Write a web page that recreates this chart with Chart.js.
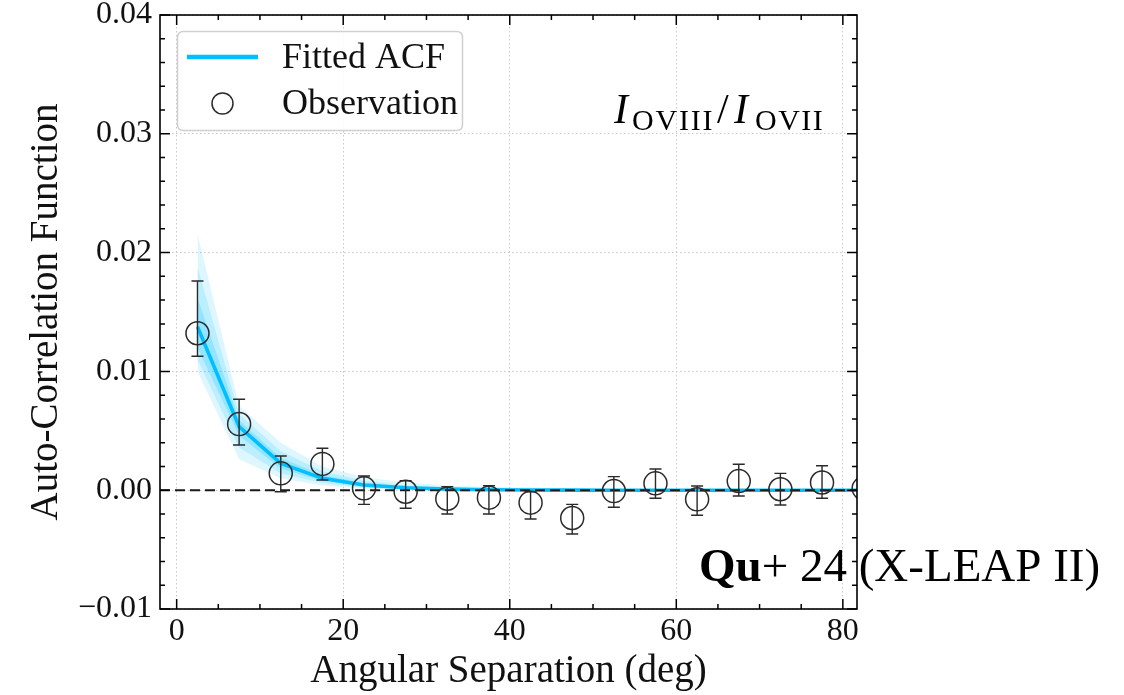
<!DOCTYPE html>
<html><head><meta charset="utf-8">
<script src="https://cdn.jsdelivr.net/npm/chart.js@4.4.1/dist/chart.umd.min.js"></script>
<style>html,body{margin:0;padding:0;background:#fff;overflow:hidden}canvas{display:block}</style>
</head><body>
<canvas id="c" width="1124" height="695"></canvas>
<script>
// ---- data ----
const separation = [2.5,7.5,12.5,17.5,22.5,27.5,32.5,37.5,42.5,47.5,52.5,57.5,62.5,67.5,72.5,77.5,82.5];
const observed   = [0.01321,0.00557,0.00142,0.00221,0.00016,-0.00013,-0.00072,-0.00063,-0.00105,-0.00234,-0.00007,0.00058,-0.00077,0.00077,0.00008,0.00065,0.00016];
const obsUpper   = [0.01761,0.00765,0.00288,0.00353,0.00120,0.00080,0.00030,0.00038,-0.00013,-0.00119,0.00114,0.00178,0.00035,0.00218,0.00142,0.00206,0.00136];
const obsLower   = [0.01127,0.00380,-0.00013,0.00086,-0.00119,-0.00152,-0.00200,-0.00200,-0.00242,-0.00369,-0.00144,-0.00068,-0.00211,-0.00049,-0.00125,-0.00068,-0.00104];
const fitted     = [0.01376,0.00535,0.00226,0.00100,0.00044,0.00020,0.00009,0.00004,0.00002,0.00001,0,0,0,0,0,0,0];
const outerUpper = [0.0216,0.0071,0.0040,0.0020,0.0011,0.00065,0.0004,0.00028,0.0002,0.00014,0.0001,0.00007,0.00005,0.00003,0.00002,0.00001,0.00001];
const outerLower = [0.0100,0.0026,0.0010,0.0004,0.00012,0.00004,0.00001,0,0,0,0,0,0,0,0,0,0];
const midUpper   = [0.0188,0.0064,0.0033,0.0016,0.0008,0.00042,0.00024,0.00014,0.00008,0.00005,0.00003,0.00002,0.00001,0,0,0,0];
const midLower   = [0.0110,0.0036,0.0014,0.0006,0.0002,0.00008,0.00003,0.00001,0,0,0,0,0,0,0,0,0];
const innerUpper = [0.0162,0.0059,0.0027,0.0013,0.0006,0.00028,0.00013,0.00006,0.00003,0.00001,0,0,0,0,0,0,0];
const innerLower = [0.0120,0.0046,0.0018,0.0008,0.0003,0.00012,0.00005,0.00002,0.00001,0,0,0,0,0,0,0,0];
const xTicks = [0,20,40,60,80];
const yTicks = [-0.01,0,0.01,0.02,0.03,0.04];
const xMinorStep = 5, yMinorStep = 0.002;
const xLabel = 'Angular Separation (deg)';
const yLabel = 'Auto-Correlation Function';
const legendLabels = ['Fitted ACF','Observation'];

const SERIF = '"Liberation Serif", "Times New Roman", serif';
const BLUE = '#00bfff';
const pts = arr => separation.map((s,i)=>({x:s,y:arr[i]}));

const band = (arr, alpha, fill) => ({data:pts(arr), borderWidth:0, pointRadius:0, fill:fill,
  backgroundColor:`rgba(0,191,255,${alpha})`, order:5});

const datasets = [
  band(outerUpper,0.13,'+1'), band(outerLower,0,false),
  band(midUpper,0.16,'+1'), band(midLower,0,false),
  band(innerUpper,0.22,'+1'), band(innerLower,0,false),
  {label:legendLabels[0], data:pts(fitted), borderColor:BLUE, borderWidth:3.6, pointRadius:0, fill:false, tension:0, order:2},
  {label:legendLabels[1], data:pts(observed), showLine:false, pointStyle:'circle', pointRadius:11.5,
   pointBorderWidth:1.5, pointBorderColor:'#2a2a2a', pointBackgroundColor:'rgba(0,0,0,0)', order:0}
];
const LINE_IDX = 6;

const decor = {
  id:'decor',
  afterDatasetDraw(chart, args){
    if (args.index !== LINE_IDX) return;
    const {ctx, chartArea:a, scales:{x,y}} = chart;
    ctx.save();
    ctx.beginPath(); ctx.rect(a.left,a.top,a.width,a.height); ctx.clip();
    const y0 = y.getPixelForValue(0);
    ctx.strokeStyle='#1a1a1a'; ctx.lineWidth=2; ctx.setLineDash([10,5]);
    ctx.beginPath(); ctx.moveTo(a.left,y0); ctx.lineTo(a.right,y0); ctx.stroke();
    ctx.setLineDash([]);
    ctx.strokeStyle='#2a2a2a'; ctx.lineWidth=1.4;
    separation.forEach((s,i)=>{
      const px=x.getPixelForValue(s), pt=y.getPixelForValue(obsUpper[i]), pb=y.getPixelForValue(obsLower[i]);
      ctx.beginPath();
      ctx.moveTo(px,pt); ctx.lineTo(px,pb);
      ctx.moveTo(px-6,pt); ctx.lineTo(px+6,pt);
      ctx.moveTo(px-6,pb); ctx.lineTo(px+6,pb);
      ctx.stroke();
    });
    ctx.restore();
  },
  afterDraw(chart){
    const {ctx, chartArea:a, scales:{x,y}} = chart;
    ctx.save();
    // ticks inward on all sides
    ctx.strokeStyle='#000'; ctx.lineWidth=1.5;
    const MAJ=10, MIN=5;
    ctx.beginPath();
    for (let v=Math.ceil(x.min/xMinorStep)*xMinorStep; v<=x.max+1e-9; v+=xMinorStep){
      const px=x.getPixelForValue(v); const L = xTicks.includes(Math.round(v*100)/100)?MAJ:MIN;
      ctx.moveTo(px,a.bottom); ctx.lineTo(px,a.bottom-L);
      ctx.moveTo(px,a.top); ctx.lineTo(px,a.top+L);
    }
    for (let k=Math.round(y.min/yMinorStep); k*yMinorStep<=y.max+1e-9; k++){
      const v=k*yMinorStep; const py=y.getPixelForValue(v);
      const L = (k%5===0)?MAJ:MIN;
      ctx.moveTo(a.left,py); ctx.lineTo(a.left+L,py);
      ctx.moveTo(a.right,py); ctx.lineTo(a.right-L,py);
    }
    ctx.stroke();
    // frame
    ctx.lineWidth=1.6;
    ctx.strokeRect(a.left,a.top,a.width,a.height);

    // legend
    const lx=177.5, ly=31.5, lw=285, lh=99, r=6;
    ctx.beginPath();
    ctx.moveTo(lx+r,ly); ctx.lineTo(lx+lw-r,ly); ctx.quadraticCurveTo(lx+lw,ly,lx+lw,ly+r);
    ctx.lineTo(lx+lw,ly+lh-r); ctx.quadraticCurveTo(lx+lw,ly+lh,lx+lw-r,ly+lh);
    ctx.lineTo(lx+r,ly+lh); ctx.quadraticCurveTo(lx,ly+lh,lx,ly+lh-r);
    ctx.lineTo(lx,ly+r); ctx.quadraticCurveTo(lx,ly,lx+r,ly); ctx.closePath();
    ctx.fillStyle='rgba(255,255,255,0.85)'; ctx.fill();
    ctx.strokeStyle='#d0d0d0'; ctx.lineWidth=1.5; ctx.stroke();
    ctx.strokeStyle=BLUE; ctx.lineWidth=4.5;
    ctx.beginPath(); ctx.moveTo(187,57); ctx.lineTo(258,57); ctx.stroke();
    ctx.strokeStyle='#2a2a2a'; ctx.lineWidth=1.5;
    ctx.beginPath(); ctx.arc(222.5,103.5,10.5,0,Math.PI*2); ctx.stroke();
    ctx.fillStyle='#111'; ctx.textBaseline='alphabetic'; ctx.textAlign='left';
    ctx.font='36px '+SERIF;
    ctx.fillText(legendLabels[0],282,68);
    ctx.fillText(legendLabels[1],282,114);

    // I_OVIII / I_OVII
    ctx.fillStyle='#000';
    ctx.font='italic 42px '+SERIF; ctx.fillText('I',614,123);
    ctx.font='30px '+SERIF; ctx.letterSpacing='1.8px'; ctx.fillText('OVIII',632,130);
    ctx.letterSpacing='0px';
    ctx.font='42px '+SERIF; ctx.fillText('/',717,123);
    ctx.font='italic 42px '+SERIF; ctx.fillText('I',734,123);
    ctx.font='30px '+SERIF; ctx.letterSpacing='1.5px'; ctx.fillText('OVII',755,130);
    ctx.letterSpacing='0px';

    // citation
    let cx=699, cy=581;
    ctx.font='bold 47px '+SERIF; ctx.fillText('Qu',cx,cy); cx+=ctx.measureText('Qu').width;
    ctx.font='47px '+SERIF; ctx.fillText('+ 24 (X-LEAP II)',cx,cy);
    ctx.restore();
  }
};

const fmtY = v => (v<0?'\u2212':'') + Math.abs(v).toFixed(2);

new Chart(document.getElementById('c'), {
  type:'line',
  data:{datasets},
  options:{
    responsive:false, animation:false, devicePixelRatio:1,
    layout:{padding:{top:15,right:267,left:0,bottom:0}},
    plugins:{legend:{display:false}, tooltip:{enabled:false}, filler:{propagate:false}},
    scales:{
      x:{type:'linear', min:-2, max:81.7,
        afterBuildTicks:s=>{s.ticks=xTicks.map(v=>({value:v}));},
        afterFit:s=>{s.height=86; s.paddingLeft=0; s.paddingRight=0;},
        ticks:{autoSkip:false, maxRotation:0, padding:3, color:'#111', font:{family:SERIF,size:32}, callback:v=>String(v)},
        grid:{color:'#c8c8c8', lineWidth:1, drawTicks:false},
        border:{display:false, dash:[1.5,2.5]},
        title:{display:true, text:xLabel, color:'#111', font:{family:SERIF,size:39,lineHeight:1.2}, padding:{top:0,bottom:0}}
      },
      y:{type:'linear', min:-0.01, max:0.04,
        afterBuildTicks:s=>{s.ticks=yTicks.map(v=>({value:v}));},
        afterFit:s=>{s.width=160; s.paddingTop=0; s.paddingBottom=0;},
        ticks:{padding:8, color:'#111', font:{family:SERIF,size:32}, callback:v=>fmtY(v)},
        grid:{color:'#c8c8c8', lineWidth:1, drawTicks:false},
        border:{display:false, dash:[1.5,2.5]},
        title:{display:true, text:yLabel, color:'#111', font:{family:SERIF,size:39,lineHeight:1.2}, padding:{top:23,bottom:0}}
      }
    }
  },
  plugins:[decor]
});
</script>
</body></html>
